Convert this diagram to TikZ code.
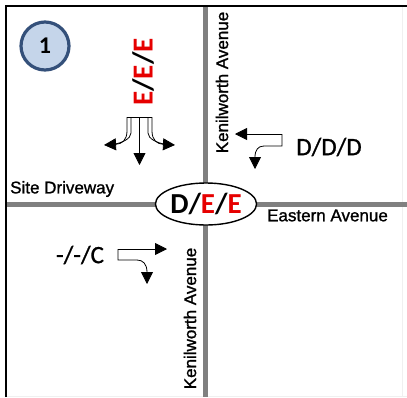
\documentclass[tikz,border=0pt]{standalone}
\usepackage{fontspec}
\setmainfont{Carlito}
\newfontfamily\arialfont[FakeBold=1.2]{Liberation Sans}
\newfontfamily\losfont[FakeBold=1.0]{Carlito}
\usetikzlibrary{arrows.meta,shapes.geometric}
\definecolor{road}{RGB}{128,128,128}
\definecolor{numfill}{RGB}{197,213,234}
\definecolor{numdraw}{RGB}{52,80,122}
\definecolor{lvred}{RGB}{230,0,0}
\begin{document}
\begin{tikzpicture}[x=1pt,y=-1pt,
  roadline/.style={draw=road,line width=4.5pt},
  frameline/.style={draw=black,line width=2pt},
  faintline/.style={draw=black!6,line width=1pt},
  lanearrow/.style={draw=black,line width=0.8pt,-{Triangle[length=12pt,width=12pt]}},
  laneline/.style={draw=black,line width=0.8pt},
  streetlabel/.style={font=\arialfont\fontsize{17}{17}\selectfont,inner sep=0pt},
  los/.style={font=\losfont\fontsize{25}{25}\selectfont,inner sep=0pt},
  losbold/.style={font=\bfseries\fontsize{29}{29}\selectfont,inner sep=0pt},
]
\useasboundingbox (0,0) rectangle (407,397);
\fill[white] (0,0) rectangle (407,397);
% faint outer edges
\coordinate (fr1) at (402.5,5);
\coordinate (fr2) at (402.5,397);
\coordinate (fb1) at (6,396.3);
\coordinate (fb2) at (407,396.3);
\draw[faintline] (fr1) -- (fr2);
\draw[faintline] (fb1) -- (fb2);
% roads
\coordinate (rn) at (205.5,5);
\coordinate (rs) at (205.5,397);
\coordinate (rw) at (6,204.5);
\coordinate (re) at (407,204.5);
\draw[roadline] (rn) -- (rs);
\draw[roadline] (rw) -- (re);
% frame
\coordinate (fbl) at (6.2,397);
\coordinate (ftl) at (6.2,5.6);
\coordinate (ftr) at (407,5.6);
\draw[frameline] (fbl) -- (ftl) -- (ftr);
% intersection
\node[ellipse,draw,line width=1.4pt,fill=white,minimum width=78pt,minimum height=42pt,inner sep=0pt,losbold] (int) at (206,204) {D/\textcolor{lvred}{E}/\textcolor{lvred}{E}};
% number
\node[circle,draw=numdraw,line width=3.2pt,fill=numfill,minimum size=48pt,inner sep=0pt,font=\bfseries\fontsize{24}{24}\selectfont] (num) at (45,46) {1};
% southbound
\node[losbold,rotate=90] (sblos) at (143,72) {\textcolor{lvred}{E}/\textcolor{lvred}{E}/\textcolor{lvred}{E}};
\coordinate (sbl) at (127,117);
\coordinate (sbli) at (131,117);
\coordinate (sbc) at (139.5,117);
\coordinate (sbri) at (148,117);
\coordinate (sbr) at (152,117);
\coordinate (sbtipl) at (104,145);
\coordinate (sbtipc) at (139.5,165);
\coordinate (sbtipr) at (175,145);
\draw[laneline] (sbl) -- (sbr);
\draw[lanearrow] (sbc) -- (sbtipc);
\draw[lanearrow] (sbl) -- ++(0,14) .. controls +(0,9) and (122,144) .. (sbtipl);
\draw[laneline] (sbli) -- ++(0,16) .. controls +(0,6) and (121,143) .. (115,144);
\draw[lanearrow] (sbr) -- ++(0,14) .. controls +(0,9) and (157,144) .. (sbtipr);
\draw[laneline] (sbri) -- ++(0,16) .. controls +(0,6) and (158,143) .. (164,144);
% westbound
\node[los] (wblos) at (329,147) {D/D/D};
\coordinate (wbc) at (282,134);
\coordinate (wbtipl) at (235,134);
\coordinate (wbtipd) at (255,169);
\draw[lanearrow] (wbc) -- (wbtipl);
\draw[lanearrow] (wbc) -- (282,146) -- (264,146) .. controls (258,146) and (255,150) .. (wbtipd);
% eastbound
\node[los] (eblos) at (80,255) {-/-/C};
\coordinate (ebc) at (118,249);
\coordinate (ebtipr) at (167,249);
\coordinate (ebtipd) at (147,284);
\draw[lanearrow] (ebc) -- (ebtipr);
\draw[lanearrow] (ebc) -- (118,260) -- (137,260) .. controls (143,260) and (147,264) .. (ebtipd);
% street labels
\node[streetlabel,anchor=west] (site) at (10,189) {Site Driveway};
\node[streetlabel] (east) at (327.5,215.5) {Eastern Avenue};
\node[streetlabel,rotate=90] (kn) at (222,82.5) {Kenilworth Avenue};
\node[streetlabel,rotate=90] (ks) at (190,318.5) {Kenilworth Avenue};
\end{tikzpicture}
\end{document}
